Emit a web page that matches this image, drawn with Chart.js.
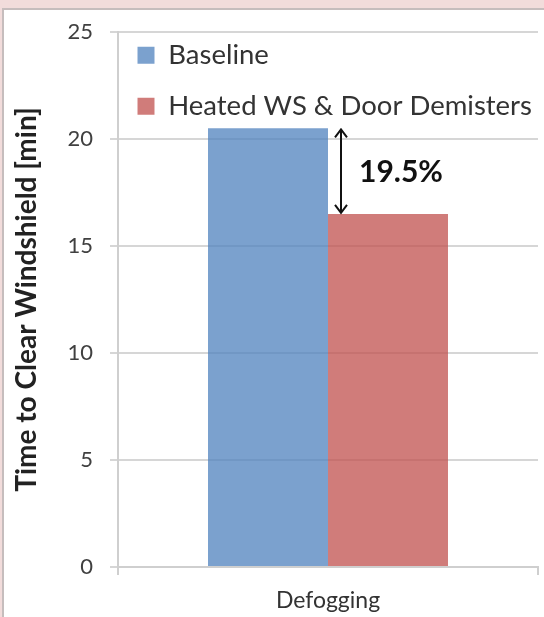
<!DOCTYPE html>
<html><head><meta charset="utf-8">
<script src="https://cdn.jsdelivr.net/npm/chart.js@4.4.1/dist/chart.umd.min.js"></script>
<style>
html,body{margin:0;padding:0;width:544px;height:617px;overflow:hidden;background:#f2dcdb;}
#frame{position:absolute;left:2px;top:8px;width:600px;height:700px;background:#fff;border:2px solid #c6bdbd;box-sizing:border-box}
#wrap{position:absolute;left:0;top:0;width:544px;height:617px}
</style></head>
<body><div id="frame"></div><div id="wrap"><canvas id="c" width="544" height="617"></canvas></div>
<script>
const categories = ['Defogging'];
const seriesNames = ['Baseline', 'Heated WS & Door Demisters'];
const baselineValues = [20.5];
const heatedValues = [16.5];
const yTicks = [0, 5, 10, 15, 20, 25];
const yTitle = 'Time to Clear Windshield [min]';

const FONT = 'Lato, "Open Sans", sans-serif';

const gapPlugin = {
  id: 'gapArrow',
  afterDatasetsDraw(chart) {
    const {ctx, scales: {y}} = chart;
    const bar = chart.getDatasetMeta(1).data[0];
    const xPix = bar.x - bar.width / 2 + 13;
    const yTop = y.getPixelForValue(baselineValues[0]);
    const yBot = y.getPixelForValue(heatedValues[0]);
    ctx.save();
    ctx.strokeStyle = '#111';
    ctx.lineWidth = 2;
    ctx.beginPath();
    ctx.moveTo(xPix, yTop + 1);
    ctx.lineTo(xPix, yBot - 1);
    ctx.moveTo(xPix - 6, yTop + 9);
    ctx.lineTo(xPix, yTop + 1);
    ctx.lineTo(xPix + 6, yTop + 9);
    ctx.moveTo(xPix - 6, yBot - 9);
    ctx.lineTo(xPix, yBot - 1);
    ctx.lineTo(xPix + 6, yBot - 9);
    ctx.stroke();
    const pct = ((baselineValues[0] - heatedValues[0]) / baselineValues[0] * 100).toFixed(1) + '%';
    ctx.fillStyle = '#111';
    ctx.font = 'bold 30px ' + FONT;
    ctx.textBaseline = 'middle';
    ctx.textAlign = 'left';
    ctx.fillText(pct, xPix + 18, (yTop + yBot) / 2 + 1);
    ctx.restore();
  }
};

const legendPlace = {
  id: 'legendPlace',
  afterLayout(chart) {
    const lg = chart.legend;
    if (lg) {
      const h = lg.bottom - lg.top;
      lg.top = 18;
      lg.bottom = 18 + h;
      lg.left = chart.chartArea.left - 4;
    }
  }
};

new Chart(document.getElementById('c'), {
  type: 'bar',
  data: {
    labels: categories,
    datasets: [
      { label: seriesNames[0], data: baselineValues, backgroundColor: 'rgba(79,129,189,0.75)', borderWidth: 0 },
      { label: seriesNames[1], data: heatedValues, backgroundColor: 'rgba(192,80,77,0.75)', borderWidth: 0 }
    ]
  },
  options: {
    responsive: false,
    animation: false,
    devicePixelRatio: 1,
    layout: { padding: { left: 0, top: 32, right: 6, bottom: 0 } },
    datasets: { bar: { categoryPercentage: 0.5714, barPercentage: 1 } },
    plugins: {
      tooltip: { enabled: false },
      legend: {
        position: 'chartArea',
        align: 'start',
        labels: {
          font: { family: FONT, size: 27.5 },
          color: '#333',
          boxWidth: 17,
          boxHeight: 17,
          padding: 23.5
        }
      }
    },
    scales: {
      x: {
        afterFit(scale) { scale.height = 50; },
        grid: { offset: true, drawOnChartArea: false, drawTicks: true, tickLength: 8, color: '#cfcfcf', lineWidth: 2 },
        border: { display: true, color: '#cfcfcf', width: 2 },
        ticks: { font: { family: FONT, size: 23 }, color: '#333', padding: 12 }
      },
      y: {
        min: 0, max: 25,
        afterFit(scale) { scale.width = 118; },
        afterBuildTicks(scale) { scale.ticks = yTicks.map(v => ({ value: v })); },
        grid: { color: '#d6d6d6', lineWidth: 2, drawTicks: true, tickLength: 8 },
        border: { display: true, color: '#cfcfcf', width: 2 },
        ticks: { font: { family: FONT, size: 22 }, color: '#404040', padding: 17 },
        title: {
          display: true, text: yTitle,
          font: { family: FONT, size: 28, weight: 'bold' },
          color: '#222',
          padding: { top: 10, bottom: 0 }
        }
      }
    }
  },
  plugins: [legendPlace, gapPlugin]
});
</script>
</body></html>
